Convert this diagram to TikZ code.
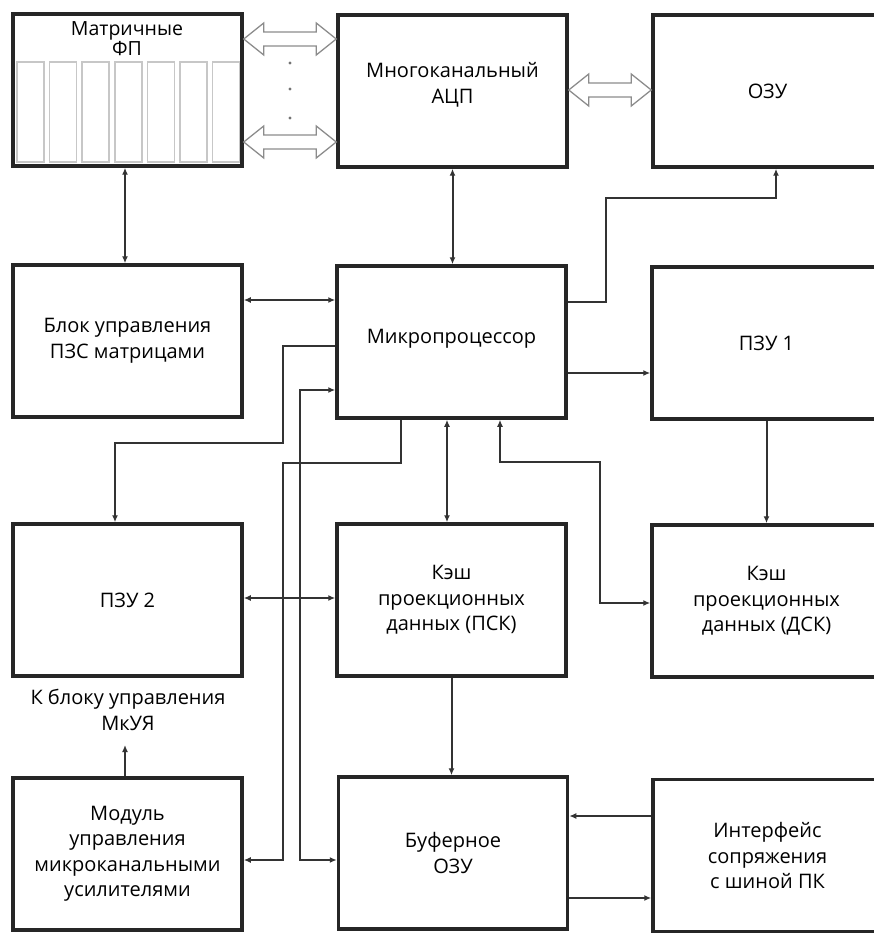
\documentclass[tikz,border=0pt]{standalone}
\usepackage{fontspec}
\setmainfont{Open Sans}
\usetikzlibrary{arrows.meta,calc}
\newcommand\hollowarr[2]{%
  \path[hollowline] let \p1=#1, \p2=#2 in
    (\x1,\y1) -- (\x1+20pt,\y1+16pt) -- (\x1+20pt,\y1+7pt) -- (\x2-20pt,\y1+7pt)
    -- (\x2-20pt,\y1+16pt) -- (\x2,\y1) -- (\x2-20pt,\y1-16pt) -- (\x2-20pt,\y1-7pt)
    -- (\x1+20pt,\y1-7pt) -- (\x1+20pt,\y1-16pt) -- cycle;}
\begin{document}
\begin{tikzpicture}[x=1pt,y=-1pt,
  box/.style={draw=black!85, line width=3.5pt, minimum width=229pt, minimum height=152pt,
    align=center, inner sep=0pt, font=\fontsize{20}{25.5}\selectfont},
  conn/.style={draw=black!80, line width=2pt},
  hollowline/.style={draw=black!45, line width=1.3pt, fill=white, line join=miter},
  cell/.style={draw=black!22, line width=1.5pt},
  lbl/.style={align=center, inner sep=0pt, font=\fontsize{20}{25.5}\selectfont},
  >={Latex[length=7pt,width=6pt]}
]
\useasboundingbox (0,0) rectangle (874,933);
\fill[white] (0,0) rectangle (874,933);

% boxes
\node[box] (fp)   at (127.5,90) {};
\node[box] (adc)  at (452.5,91) {};
\node[box] (ozu)  at (767.5,91) {ОЗУ};
\node[box] (blk)  at (127.5,341) {Блок управления\\ПЗС матрицами};
\node[box] (mp)   at (451.5,342) {};
\node[box] (pzu1) at (766.5,343) {ПЗУ 1};
\node[box] (pzu2) at (127.5,600) {ПЗУ 2};
\node[box] (kpsk) at (451.5,600) {Кэш\\проекционных\\данных (ПСК)};
\node[box] (kdsk) at (766.5,601) {Кэш\\проекционных\\данных (ДСК)};
\node[box] (mod)  at (127.5,854) {Модуль\\управления\\микроканальными\\усилителями};
\node[box] (buf)  at (453,853) {Буферное\\ОЗУ};
\node[box] (intf) at (767.5,855.5) {Интерфейс\\сопряжения\\с шиной ПК};

\node[lbl] (adct) at (452.5,85) {Многоканальный\\АЦП};
\node[lbl] (mpt) at (451.5,339) {Микропроцессор};

% matrix cells
\foreach \i in {0,...,6} {
  \draw[cell] ({17+32.6*\i},62) rectangle ({44+32.6*\i},162);
}
\node[lbl, font=\fontsize{19.5}{18}\selectfont] (fplabel) at (127,39) {Матричные\\ФП};

% hollow bus arrows
\coordinate (h1) at (0,39);
\coordinate (h2) at (0,142);
\coordinate (h3) at (0,90);
\hollowarr{(fp.east |- h1)}{(adc.west |- h1)}
\hollowarr{(fp.east |- h2)}{(adc.west |- h2)}
\hollowarr{(adc.east |- h3)}{(ozu.west |- h3)}
\foreach \yy [count=\k] in {63,89,118} {
  \fill[black!55] (290,\yy) circle (1.6pt) coordinate (dot\k);
}

% junction coordinates
\coordinate (y300) at (0,300);
\coordinate (y302) at (0,302);
\coordinate (j4) at (606,198);
\coordinate (x776) at (776,0);
\coordinate (y373) at (0,373);
\coordinate (x500) at (500,0);
\coordinate (j7) at (600,462);
\coordinate (y603) at (0,603);
\coordinate (x447) at (447,0);
\coordinate (y346) at (0,346);
\coordinate (j9) at (283,443);
\coordinate (x115) at (115,0);
\coordinate (x401) at (401,0);
\coordinate (j10) at (283,463);
\coordinate (y860) at (0,860);
\coordinate (y390) at (0,390);
\coordinate (j11) at (300,860);
\coordinate (y598) at (0,598);
\coordinate (y816) at (0,816);
\coordinate (y898) at (0,898);
\coordinate (x125) at (125,0);
\coordinate (up) at (125,745);

% connectors
\draw[conn,<->] (fp.south -| x125) -- (blk.north -| x125);
\draw[conn,<->] (adc.south) -- (mp.north -| adc.south);
\draw[conn,<->] (blk.east |- y300) -- (mp.west |- y300);
\draw[conn,->] (mp.east |- y302) -| (j4) -| (ozu.south -| x776);
\draw[conn,->] (mp.east |- y373) -- (pzu1.west |- y373);
\draw[conn,->] (pzu1.south) -- (kdsk.north -| pzu1.south);
\draw[conn,<->] (mp.south -| x500) |- (j7) |- (kdsk.west |- y603);
\draw[conn,<->] (mp.south -| x447) -- (kpsk.north -| x447);
\draw[conn,->] (mp.west |- y346) -| (j9) -| (pzu2.north -| x115);
\draw[conn,->] (mp.south -| x401) |- (j10) |- (mod.east |- y860);
\draw[conn,<->] (mp.west |- y390) -| (j11) -- (buf.west |- y860);
\draw[conn,<->] (pzu2.east |- y598) -- (kpsk.west |- y598);
\draw[conn,->] (kpsk.south) -- (buf.north -| kpsk.south);
\draw[conn,->] (intf.west |- y816) -- (buf.east |- y816);
\draw[conn,->] (buf.east |- y898) -- (intf.west |- y898);
\draw[conn,->] (mod.north -| x125) -- (up);

\node[lbl] (mkuya) at (128,710) {К блоку управления\\МкУЯ};
\end{tikzpicture}
\end{document}
